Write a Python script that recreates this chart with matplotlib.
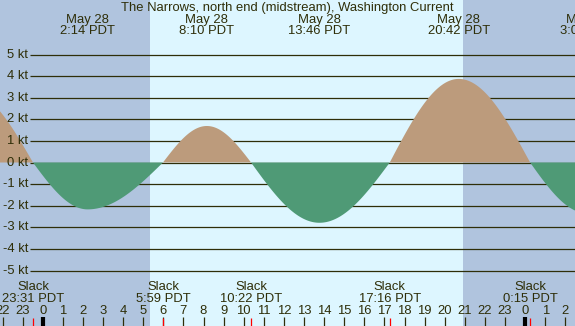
"""
Tidal current chart for The Narrows, north end (midstream)
"""

import numpy as np
import matplotlib.pyplot as plt

plt.rcParams["font.family"] = ["Liberation Sans", "DejaVu Sans"]

# event times in hours from midnight May 28 (negative = May 27)
event_times = [-3.7, -0.483, 2.233, 5.983, 8.167, 10.367, 13.767, 17.267, 20.7, 24.25, 27.08]
event_speeds = [3.3, 0.0, -2.17, 0.0, 1.69, 0.0, -2.79, 0.0, 3.87, 0.0, -2.35]

extreme_times = [2.233, 8.167, 13.767, 20.7, 27.08]
extreme_labels = ["May 28\n2:14 PDT", "May 28\n8:10 PDT", "May 28\n13:46 PDT",
                  "May 28\n20:42 PDT", "May 29\n3:05 PDT"]
slack_times = [-0.483, 5.983, 10.367, 17.267, 24.25]
slack_labels = ["23:31 PDT", "5:59 PDT", "10:22 PDT", "17:16 PDT", "0:15 PDT"]

sunrise = 5.338
sunset = 20.925
speed_levels = [-5, -4, -3, -2, -1, 0, 1, 2, 3, 4, 5]
hours = list(range(-2, 27))

title = "The Narrows, north end (midstream), Washington Current"

NIGHT = "#B0C4DE"
DAY = "#DDF6FF"
FLOOD = "#BC9B7C"
EBB = "#4F9A76"
INK = "#2E2E08"

W, H = 575, 326
px_per_hour = 20.1
x0 = 42.7          # pixel of midnight
px_per_kt = 21.6
y0 = 162.5         # pixel of 0 kt


def fy(ypix):
    # pixel row (from top) -> axes fraction
    return 1 - ypix / H


# curve: quarter-sine segments between slack and max
t = np.linspace(event_times[0], event_times[-1], 3000)
v = np.zeros_like(t)
for i in range(len(event_times) - 1):
    ta, tb = event_times[i], event_times[i + 1]
    va, vb = event_speeds[i], event_speeds[i + 1]
    m = (t >= ta) & (t <= tb)
    s = (t[m] - ta) / (tb - ta)
    if va == 0:
        v[m] = vb * np.sin(np.pi / 2 * s)
    else:
        v[m] = va * np.cos(np.pi / 2 * s)

fig = plt.figure(figsize=(W / 100, H / 100), dpi=100)
ax = fig.add_axes([0, 0, 1, 1])
ax.set_xlim(-x0 / px_per_hour, (W - x0) / px_per_hour)
ax.set_ylim((y0 - H) / px_per_kt, y0 / px_per_kt)
ax.axis("off")
ax.set_facecolor(DAY)
fig.patch.set_facecolor(DAY)

xl, xr = ax.get_xlim()
ax.axvspan(xl, sunrise, color=NIGHT, lw=0, zorder=0)
ax.axvspan(sunset, xr, color=NIGHT, lw=0, zorder=0)

# speed grid lines and labels
grid_start = (30 - x0) / px_per_hour
ax.hlines(speed_levels, grid_start, xr, color=INK, lw=0.9, zorder=1)
for lvl in speed_levels:
    ax.text((28 - x0) / px_per_hour, lvl, f"{lvl} kt", ha="right", va="center",
            fontsize=9.4, color=INK, zorder=3)

ax.fill_between(t, 0, v, where=v >= 0, color=FLOOD, lw=0, interpolate=True, zorder=2)
ax.fill_between(t, 0, v, where=v <= 0, color=EBB, lw=0, interpolate=True, zorder=2)

tr = ax.get_xaxis_transform()

# title and max/min labels at top
ax.text(((122 + 452) / 2 - x0) / px_per_hour, fy(7.5), title, transform=tr,
        ha="center", va="center", fontsize=9.4, color=INK)
for tx, lab in zip(extreme_times, extreme_labels):
    ax.text(tx, fy(25.5), lab, transform=tr, ha="center", va="center",
            fontsize=9.4, color=INK, linespacing=0.95)

# slack labels at bottom
for tx, lab in zip(slack_times, slack_labels):
    ax.text(tx, fy(293), "Slack\n" + lab, transform=tr, ha="center", va="center",
            fontsize=9.4, color=INK, linespacing=0.95)

# hour ticks
for h in hours:
    ax.text(h, fy(311.5), str(h % 24), transform=tr, ha="center", va="center",
            fontsize=9.4, color=INK)
    lw = 3 if h % 24 == 0 else 0.9
    ax.vlines(h, 0, fy(317), transform=tr, color="black" if lw > 1 else INK, lw=lw)
ax.vlines(slack_times, 0, fy(318), transform=tr, color="red", lw=0.9)

fig.savefig("out.png", dpi=100, facecolor=fig.get_facecolor())
